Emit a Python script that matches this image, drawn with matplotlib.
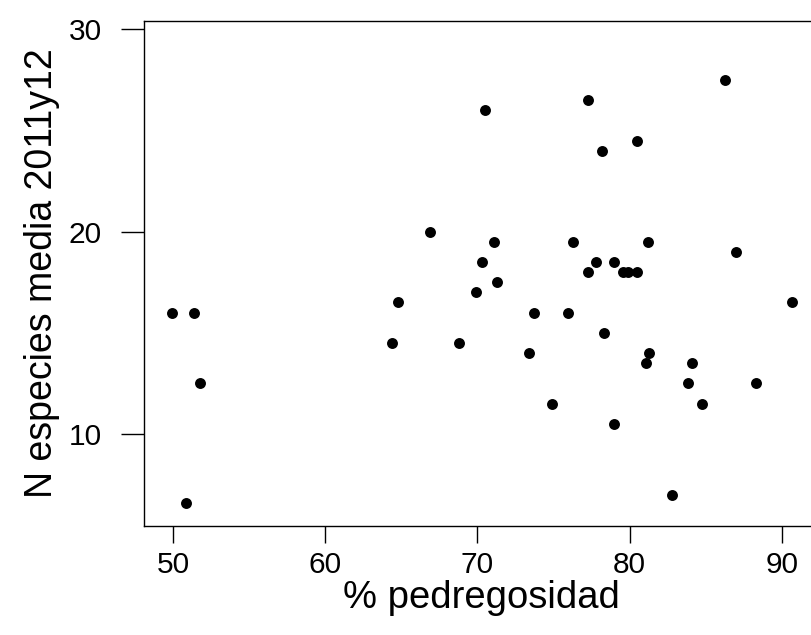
import matplotlib
matplotlib.use("Agg")
import matplotlib.pyplot as plt

# % pedregosidad vs N especies media 2011y12
pedregosidad = [49.95, 51.38, 51.8, 50.85, 64.36, 64.8, 66.9, 68.8, 69.88, 70.3,
                70.49, 71.1, 71.28, 73.38, 73.73, 74.87, 75.92, 76.27, 77.24, 77.24,
                77.76, 78.2, 78.28, 78.99, 78.99, 79.56, 79.9, 80.48, 80.48, 81.09,
                81.18, 81.26, 82.76, 83.8, 84.06, 84.77, 86.26, 86.96, 88.27, 90.68]
n_especies = [16, 16, 12.5, 6.6, 14.5, 16.5, 20, 14.5, 17, 18.5,
              26, 19.5, 17.5, 14, 16, 11.5, 16, 19.5, 26.5, 18,
              18.5, 24, 15, 18.5, 10.5, 18, 18, 18, 24.5, 13.5,
              19.5, 14, 7, 12.5, 13.5, 11.5, 27.5, 19, 12.5, 16.5]
xticks = [50, 60, 70, 80, 90]
yticks = [10, 20, 30]

plt.rcParams["font.family"] = ["Liberation Sans", "DejaVu Sans"]

fig = plt.figure(figsize=(8.12, 6.35), dpi=100)
# axes run past the right edge, like the cropped original
ax = fig.add_axes([144/812, 1-526/635, (818.5-144)/812, (526-21)/635])
ax.scatter(pedregosidad, n_especies, s=62, color="black", linewidths=0, zorder=3)

ax.set_xlim(48.1, 92.4)
ax.set_ylim(5.45, 30.41)
ax.set_xticks(xticks)
ax.set_yticks(yticks)
ax.tick_params(axis="x", length=12, width=1, pad=6, labelsize=21.5)
ax.tick_params(axis="y", length=16.5, width=1, pad=14, labelsize=21.5)
for sp in ax.spines.values():
    sp.set_linewidth(1)

ax.set_xlabel("% pedregosidad", fontsize=27.5, labelpad=1)
ax.set_ylabel("N especies media 2011y12", fontsize=27, labelpad=6)

fig.savefig("out.png", dpi=100)
